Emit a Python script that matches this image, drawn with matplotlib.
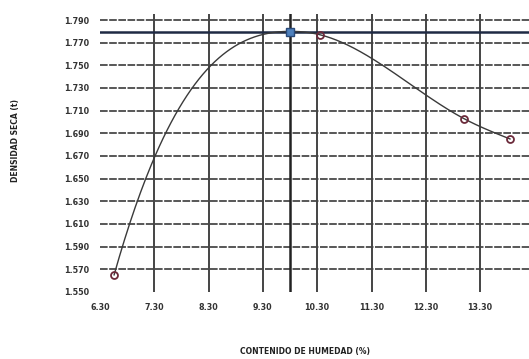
import numpy as np
import matplotlib.pyplot as plt

# lab points (humedad %, densidad seca)
humedad = [6.56, 9.80, 10.35, 13.00, 13.85]
densidad = [1.565, 1.780, 1.777, 1.703, 1.685]
hum_opt = 9.80
dens_max = 1.779
slope_inicio = 0.17   # steep start of the fitted curve

xticks = [6.30, 7.30, 8.30, 9.30, 10.30, 11.30, 12.30, 13.30]
yticks = [1.550, 1.570, 1.590, 1.610, 1.630, 1.650, 1.670, 1.690,
          1.710, 1.730, 1.750, 1.770, 1.790]


def spline(x, y, xs, d0):
    # cubic spline, clamped slope d0 at the start, natural at the end
    x = np.asarray(x, float)
    y = np.asarray(y, float)
    n = len(x)
    h = np.diff(x)
    A = np.zeros((n, n))
    b = np.zeros(n)
    A[0, 0], A[0, 1] = 2 * h[0], h[0]
    b[0] = 6 * ((y[1] - y[0]) / h[0] - d0)
    A[-1, -1] = 1
    for i in range(1, n - 1):
        A[i, i - 1] = h[i - 1]
        A[i, i] = 2 * (h[i - 1] + h[i])
        A[i, i + 1] = h[i]
        b[i] = 6 * ((y[i + 1] - y[i]) / h[i] - (y[i] - y[i - 1]) / h[i - 1])
    M = np.linalg.solve(A, b)
    out = []
    for t in xs:
        i = min(max(np.searchsorted(x, t) - 1, 0), n - 2)
        a, c = x[i + 1] - t, t - x[i]
        out.append(M[i] * a**3 / (6 * h[i]) + M[i + 1] * c**3 / (6 * h[i])
                   + (y[i] / h[i] - M[i] * h[i] / 6) * a
                   + (y[i + 1] / h[i] - M[i + 1] * h[i] / 6) * c)
    return np.array(out)


fig = plt.figure(figsize=(5.29, 3.59), dpi=100)
ax = fig.add_axes([0.189, 0.187, 0.811, 0.773])

for yv in yticks[1:]:
    ax.axhline(yv, color='#2a2a2a', lw=1.1, ls=(0, (5, 1)), zorder=1)
for xv in xticks[1:]:
    ax.axvline(xv, color='#444444', lw=1.4, zorder=1)

xs = np.linspace(humedad[0], humedad[-1], 300)
ax.plot(xs, spline(humedad, densidad, xs, slope_inicio), color='#3a3a3a', lw=1.0, zorder=3)

ax.axhline(dens_max, color='#1f2a44', lw=1.8, zorder=2)
ax.axvline(hum_opt, color='#222222', lw=1.8, zorder=2)

pts = [i for i in range(len(humedad)) if humedad[i] != hum_opt]
ax.plot([humedad[i] for i in pts], [densidad[i] for i in pts], 'o', ms=5,
        mfc='none', mec='#6b2a3a', mew=1.3, zorder=4)
ax.plot([hum_opt], [dens_max], 's', ms=6, mfc='#4f81bd', mec='#2a4a7a', zorder=5)

ax.set_xlim(6.30, 14.2)
ax.set_ylim(1.550, 1.795)
ax.set_xticks(xticks)
ax.set_xticklabels(['%.2f' % v for v in xticks])
ax.set_yticks(yticks)
ax.set_yticklabels(['%.3f' % v for v in yticks])
ax.tick_params(length=0, labelsize=5.8, pad=8)
for s in ax.spines.values():
    s.set_visible(False)
for lbl in ax.get_xticklabels() + ax.get_yticklabels():
    lbl.set_fontweight('bold')
    lbl.set_color('#333333')

ax.set_xlabel('CONTENIDO DE HUMEDAD (%)', fontsize=5.5, fontweight='bold',
              color='#222222')
ax.set_ylabel('DENSIDAD SECA (t)', fontsize=5.5, fontweight='bold',
              color='#222222')
ax.xaxis.set_label_coords(0.478, -0.216)
ax.yaxis.set_label_coords(-0.198, 0.547)
ax.xaxis.label.set_va('center')
ax.yaxis.label.set_va('center')

fig.savefig('out.png', dpi=100)
